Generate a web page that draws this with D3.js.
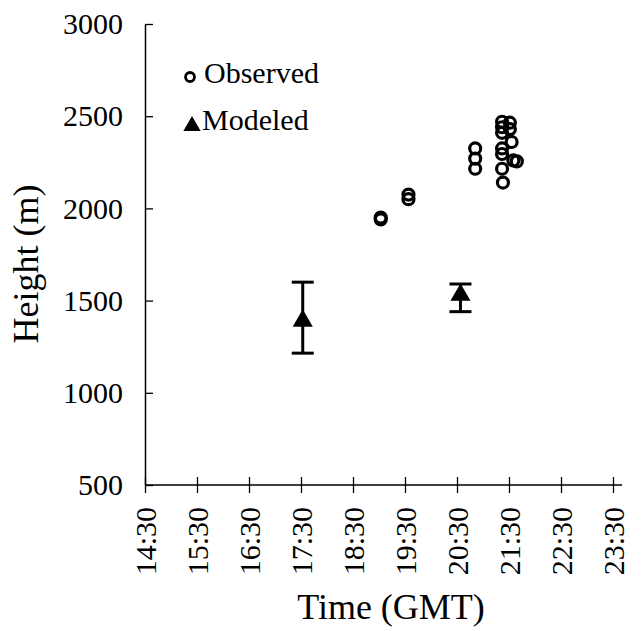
<!DOCTYPE html>
<html>
<head>
<meta charset="utf-8">
<script src="https://cdn.jsdelivr.net/npm/d3@7"></script>
<style>
  body { margin: 0; background: #fff; }
  svg text { font-family: "Liberation Serif", "Times New Roman", serif; fill: #000; }
</style>
</head>
<body>
<div id="chart"></div>
<script>
// observed heights (time GMT, height m)
const obsTimes = ["19:02", "19:02", "19:34", "19:34", "20:51", "20:51", "20:51",
  "21:22", "21:22", "21:22", "21:31", "21:31", "21:33", "21:22", "21:22",
  "21:39", "21:35", "21:22", "21:23"];
const obsHeights = [1940, 1950, 2075, 2050, 2325, 2270, 2215,
  2470, 2440, 2410, 2465, 2430, 2360, 2325, 2295,
  2255, 2260, 2215, 2140];

// modeled heights with error range
const modTimes = ["17:32", "20:34"];
const modHeights = [1390, 1530];
const modLow = [1215, 1440];
const modHigh = [1600, 1590];

const xTicks = ["14:30", "15:30", "16:30", "17:30", "18:30", "19:30", "20:30", "21:30", "22:30", "23:30"];
const yTicks = [500, 1000, 1500, 2000, 2500, 3000];

const W = 644, H = 631;
const serif = "'Liberation Serif', 'Times New Roman', serif";
const toHours = s => { const p = s.split(":"); return +p[0] + p[1] / 60; };

const x = d3.scaleLinear().domain([14.5, 23.5]).range([145, 613]);
const y = d3.scaleLinear().domain([500, 3000]).range([485, 24]);

const svg = d3.select("#chart").append("svg")
  .attr("width", W)
  .attr("height", H);

// x axis
const xAxis = svg.append("g")
  .attr("transform", `translate(0,${y(500)})`)
  .call(d3.axisBottom(x)
    .tickValues(xTicks.map(toHours))
    .tickFormat((d, i) => xTicks[i])
    .tickSizeInner(8)
    .tickSizeOuter(0));
xAxis.select(".domain").attr("d", `M${x(14.5)},0H622`).attr("stroke-width", 1.5);
xAxis.selectAll(".tick line").attr("y1", -8).attr("stroke-width", 1.3);
xAxis.selectAll(".tick text")
  .attr("transform", "rotate(-90)")
  .attr("x", -22)
  .attr("y", 0)
  .attr("dy", "0.35em")
  .style("text-anchor", "end")
  .style("font-family", serif)
  .style("font-size", "30px");

// y axis
const yAxis = svg.append("g")
  .attr("transform", `translate(${x(14.5)},0)`)
  .call(d3.axisLeft(y)
    .tickValues(yTicks)
    .tickFormat(d3.format("d"))
    .tickSizeInner(8)
    .tickSizeOuter(0)
    .tickPadding(14));
yAxis.select(".domain").attr("stroke-width", 1.5);
yAxis.selectAll(".tick line").attr("x2", 8).attr("stroke-width", 1.3);
yAxis.selectAll(".tick text")
  .style("font-family", serif)
  .style("font-size", "30px");

// axis titles
svg.append("text")
  .attr("transform", "translate(38,264) rotate(-90)")
  .style("text-anchor", "middle")
  .style("font-size", "36px")
  .text("Height (m)");

svg.append("text")
  .attr("x", 391)
  .attr("y", 619)
  .style("text-anchor", "middle")
  .style("font-size", "36px")
  .text("Time (GMT)");

// error bars
const modeled = modTimes.map((t, i) => ({ t: toHours(t), v: modHeights[i], lo: modLow[i], hi: modHigh[i] }));
const eb = svg.append("g").attr("stroke", "#000").attr("stroke-width", 3);
eb.selectAll(".stem").data(modeled).enter().append("line")
  .attr("x1", d => x(d.t)).attr("x2", d => x(d.t))
  .attr("y1", d => y(d.lo)).attr("y2", d => y(d.hi));
eb.selectAll(".capHi").data(modeled).enter().append("line")
  .attr("x1", d => x(d.t) - 11).attr("x2", d => x(d.t) + 11)
  .attr("y1", d => y(d.hi)).attr("y2", d => y(d.hi));
eb.selectAll(".capLo").data(modeled).enter().append("line")
  .attr("x1", d => x(d.t) - 11).attr("x2", d => x(d.t) + 11)
  .attr("y1", d => y(d.lo)).attr("y2", d => y(d.lo));

const tri = d3.symbol(d3.symbolTriangle, 175);
svg.selectAll(".mod").data(modeled).enter().append("path")
  .attr("d", tri)
  .attr("transform", d => `translate(${x(d.t)},${y(d.v)})`)
  .attr("fill", "#000");

// observed circles
svg.selectAll(".obs").data(obsTimes).enter().append("circle")
  .attr("cx", d => x(toHours(d)))
  .attr("cy", (d, i) => y(obsHeights[i]))
  .attr("r", 5.5)
  .attr("fill", "none")
  .attr("stroke", "#000")
  .attr("stroke-width", 3.2);

// legend
const lg = svg.append("g");
lg.append("circle").attr("cx", 190).attr("cy", 77).attr("r", 4.5)
  .attr("fill", "none").attr("stroke", "#000").attr("stroke-width", 2.8);
lg.append("text").attr("x", 204).attr("y", 83).style("font-size", "30px").text("Observed");
lg.append("path").attr("d", d3.symbol(d3.symbolTriangle, 130))
  .attr("transform", "translate(192,126)").attr("fill", "#000");
lg.append("text").attr("x", 202).attr("y", 130).style("font-size", "30px").text("Modeled");
</script>
</body>
</html>
